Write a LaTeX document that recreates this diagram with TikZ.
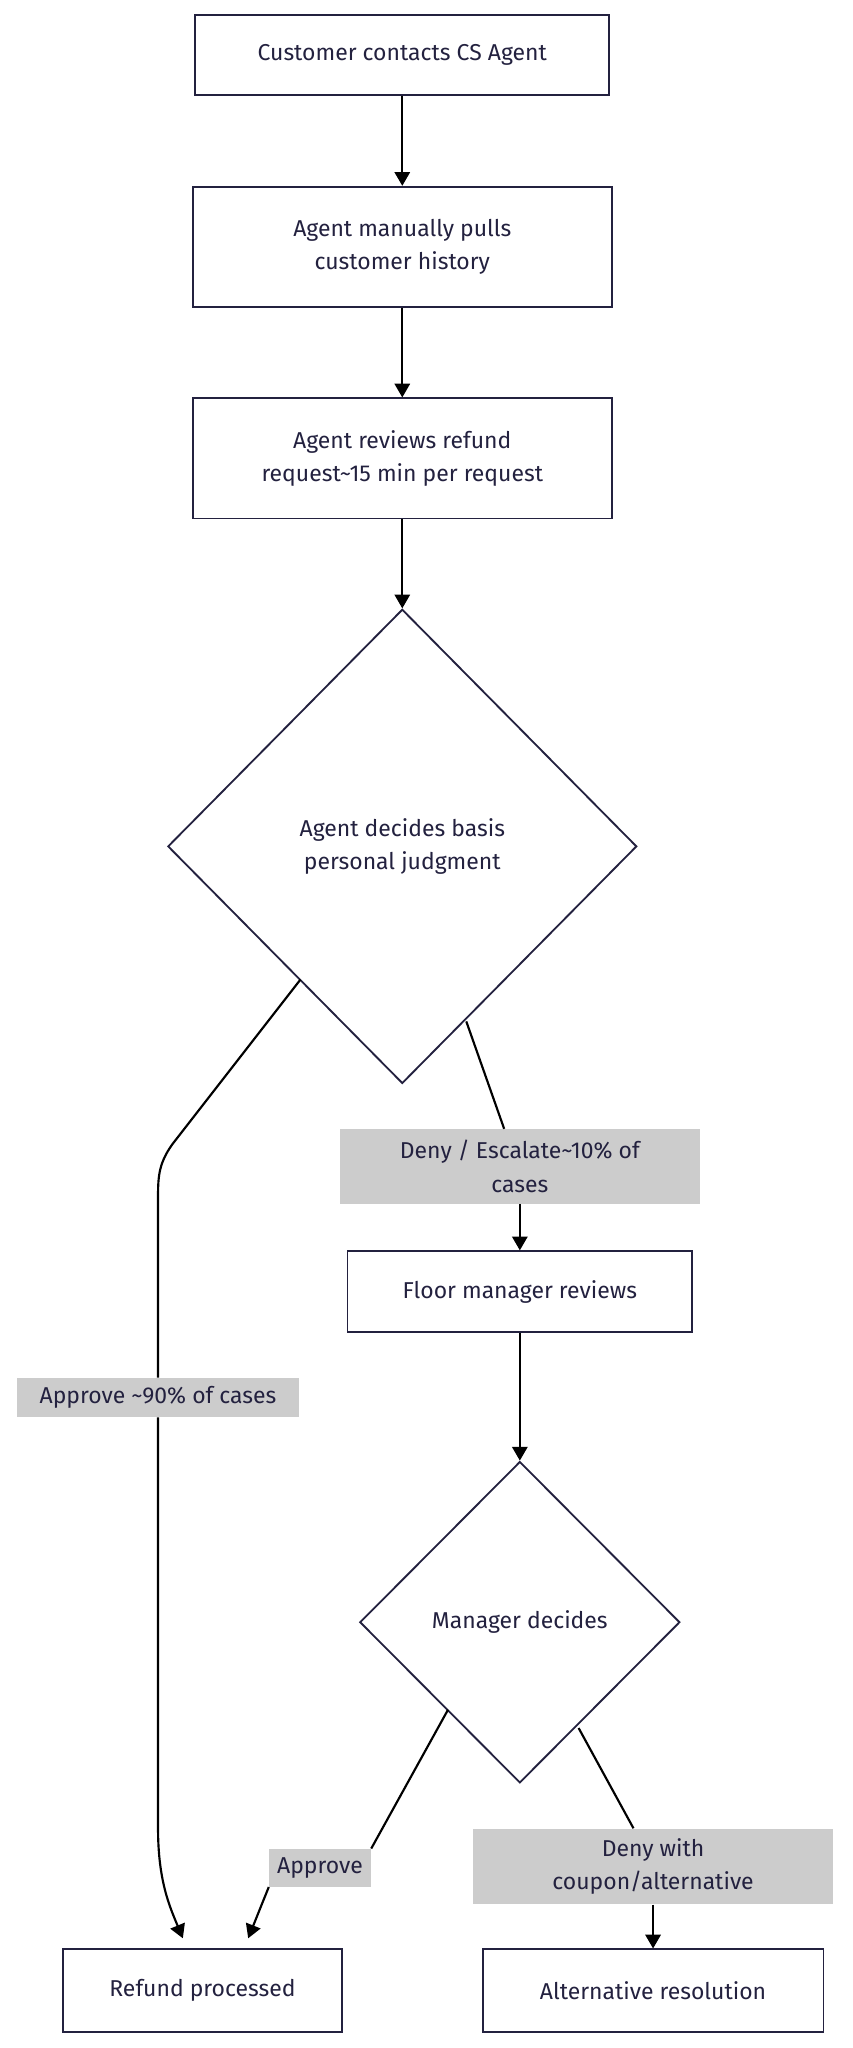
\documentclass[tikz,border=0pt]{standalone}
\usepackage{fontspec}
\setmainfont{Fira Sans}
\usepackage{tikz}
\usetikzlibrary{shapes.geometric, arrows.meta, positioning}
\definecolor{ink}{HTML}{23213F}
\definecolor{lblgray}{HTML}{CCCCCC}
\tikzset{
  box/.style={draw=ink, line width=1.2pt, fill=white, text=ink, align=center, inner sep=0pt},
  dec/.style={draw=ink, line width=1.2pt, fill=white, text=ink, align=center, shape=diamond, inner sep=0pt},
  lbl/.style={fill=lblgray, text=ink, align=center, inner sep=0pt},
  flow/.style={draw=black, line width=1.4pt, -{Triangle[length=9pt,width=10pt]}},
  seg/.style={draw=black, line width=1.4pt}
}
\begin{document}
\begin{tikzpicture}[x=0.03cm, y=-0.03cm, font=\fontsize{15}{22}\selectfont]
  \useasboundingbox (0,0) rectangle (653,1568);
  % process boxes
  \node[box, minimum width=9.51cm, minimum height=1.83cm] (contact) at (308,42) {Customer contacts CS Agent};
  \node[box, minimum width=9.63cm, minimum height=2.76cm] (pull) at (308,189) {Agent manually pulls\\ customer history};
  \node[box, minimum width=9.63cm, minimum height=2.76cm] (review) at (308,351) {Agent reviews refund\\request\textasciitilde15 min per request};
  \node[dec, minimum width=10.77cm, minimum height=10.89cm] (agentdec) at (308,648) {Agent decides basis\\ personal judgment};
  \node[box, minimum width=7.92cm, minimum height=1.86cm] (floor) at (398,989) {Floor manager reviews};
  \node[dec, minimum width=7.35cm, minimum height=7.38cm] (mgrdec) at (398,1242) {Manager decides};
  \node[box, minimum width=6.42cm, minimum height=1.89cm] (refund) at (155,1524) {Refund processed};
  \node[box, minimum width=7.83cm, minimum height=1.89cm] (alt) at (500,1524) {Alternative resolution};
  % edge labels
  \node[lbl, minimum width=8.28cm, minimum height=1.71cm] (denyesc) at (398,893) {Deny / Escalate\textasciitilde10\% of\\cases};
  \node[lbl, minimum width=6.48cm, minimum height=0.9cm] (approve90) at (121,1070) {Approve \textasciitilde90\% of cases};
  \node[lbl, minimum width=2.34cm, minimum height=0.87cm] (approve) at (245,1430) {Approve};
  \node[lbl, minimum width=8.28cm, minimum height=1.74cm] (denycoup) at (500,1429) {Deny with\\coupon/alternative};
  % connectors
  \draw[flow] (contact) -- (pull);
  \draw[flow] (pull) -- (review);
  \draw[flow] (review) -- (agentdec);
  \draw[seg] (230,750) -- (132,876) .. controls (122,890) and (121,900) .. (121,915) -- (approve90);
  \draw[flow] (approve90) -- (121,1400) .. controls (121,1440) and (130,1460) .. (140,1484);
  \draw[seg] (357,782) -- (denyesc.north -| 386,0);
  \draw[flow] (denyesc) -- (floor);
  \draw[flow] (floor) -- (mgrdec);
  \draw[seg] (343,1309) -- (approve.north east);
  \draw[flow] (approve.south west) -- (190,1484);
  \draw[seg] (443,1323) -- (denycoup.north -| 485,0);
  \draw[flow] (denycoup) -- (alt);
\end{tikzpicture}
\end{document}
